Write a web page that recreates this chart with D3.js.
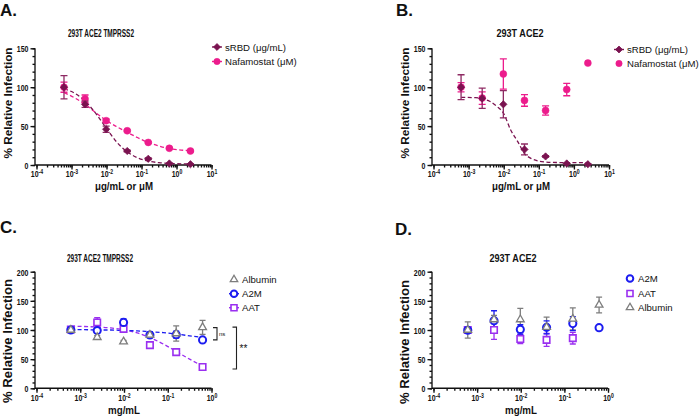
<!DOCTYPE html>
<html><head><meta charset="utf-8">
<script src="https://cdn.jsdelivr.net/npm/d3@7"></script>
<style>
body{margin:0;background:#fff}
svg{display:block}
text{font-family:"Liberation Sans",Arial,Helvetica,sans-serif;fill:#111}
</style>
</head><body>
<svg id="chart" width="700" height="417"></svg>
<script>
// ---------------- DATA ----------------
const concAB = [0.00061, 0.00244, 0.00977, 0.0391, 0.156, 0.625, 2.5];
const concCD = [0.00061, 0.00244, 0.00977, 0.0391, 0.156, 0.625];

const sRBD_A     = [100, 78, 46, 18, 8, 2, 1];
const sRBD_A_err = [15, 4, 4, 1, 1, 0.5, 0.5];
const naf_A      = [100, 85, 57, 44, 29, 21.5, 18];
const naf_A_err  = [6.5, 5, 2, 1, 1, 1, 1];

const sRBD_B     = [100, 85.7, 78, 20, 11, 2, 1];
const sRBD_B_err = [16, 13, 17.5, 7, 1, 0.5, 0.5];
const naf_B      = [100, 86, 117, 83, 70, 97, 131];
const naf_B_err  = [6, 8, 19.5, 7.5, 6, 8, 0];

// fitted curves
const fitConcA   = [0.000617, 0.00126, 0.00245, 0.005, 0.01, 0.02, 0.039, 0.079, 0.155, 0.316, 0.63, 2.5];
const fitSRBD_A  = [98, 92, 82, 66, 47, 29, 17, 9, 5, 3, 2, 1.3];
const fitNaf_A   = [93, 86, 78, 67, 57, 49, 42, 35, 29, 24.5, 21, 18.5];
const fitConcB   = [0.000617, 0.00158, 0.00251, 0.00398, 0.00631, 0.01, 0.0158, 0.0251, 0.0389, 0.0631, 0.1, 0.158, 0.316, 1, 2.51];
const fitSRBD_B  = [87, 86.5, 85, 82, 75.5, 66, 45, 30, 15, 8, 5, 3.8, 3.2, 3, 3];

const A2M_C     = [100, 99, 113, 91.5, 92, 83];
const A2M_C_err = [2, 3, 6, 5, 6, 4];
const AAT_C     = [101, 113, 102, 74, 62, 36.5];
const AAT_C_err = [3, 8, 3, 5, 2, 2];
const Alb_C     = [100, 87.5, 80, 91.5, 94, 104.5];
const Alb_C_err = [2, 3, 2, 3, 13, 12];
const fitConcC  = [0.000617, 0.00126, 0.00245, 0.005, 0.01, 0.02, 0.039, 0.079, 0.158, 0.316, 0.63];
const fitA2M_C  = [100.5, 100.5, 100, 100, 99, 98.5, 97, 95.5, 93, 90, 87];
const fitAAT_C  = [106.5, 106, 105, 103.5, 100.5, 95, 87, 76, 63, 50, 38];

const A2M_D     = [99.5, 116, 101, 104.5, 111, 104];
const A2M_D_err = [3, 17, 8, 11, 12, 3];
const AAT_D     = [100, 100, 84.5, 83, 86, null];
const AAT_D_err = [3, 16, 8, 11, 10, null];
const Alb_D     = [100, 118, 118, 105, 119, 143];
const Alb_D_err = [14, 7, 19, 17, 19, 13.5];

const xTicksAB = [1e-4, 1e-3, 1e-2, 1e-1, 1, 10];
const xTicksCD = [1e-4, 1e-3, 1e-2, 1e-1, 1];
const yTicksAB = [0, 50, 100, 150];
const yTicksCD = [0, 50, 100, 150, 200];

const COL = {srbd:"#7a1350", srbdErr:"#8e2a63", naf:"#ec1c8c", a2m:"#1c1cf0", aat:"#9a2ff0", alb:"#7d7d7d"};

// ---------------- HELPERS ----------------
const svg = d3.select("#chart");
const SQ = 0.76; // horizontal squeeze of tick labels
const rotSquare = {draw(ctx, size){ const r=Math.sqrt(size/2); ctx.moveTo(0,-r); ctx.lineTo(r,0); ctx.lineTo(0,r); ctx.lineTo(-r,0); ctx.closePath(); }};

function panel(cfg){
  const g = svg.append("g");
  const x = d3.scaleLog().domain(cfg.xDomain).range(cfg.xRange);
  const y = d3.scaleLinear().domain(cfg.yDomain).range(cfg.yRange);
  const x0 = cfg.xRange[0]-1.5;
  // minor ticks
  g.append("g").attr("transform",`translate(0,${cfg.yRange[0]})`)
    .call(d3.axisBottom(x).tickValues(x.ticks()).tickSize(2.5).tickFormat(""))
    .call(a=>a.select(".domain").remove());
  g.append("g").attr("transform",`translate(${x0},0)`)
    .call(d3.axisLeft(y).tickValues(y.ticks(cfg.yDomain[1]/10)).tickSize(2.5).tickFormat(""))
    .call(a=>a.select(".domain").remove());
  // major x
  const ax = g.append("g").attr("transform",`translate(0,${cfg.yRange[0]})`)
    .call(d3.axisBottom(x).tickValues(cfg.xTicks).tickSize(4.5).tickSizeOuter(0));
  ax.select(".domain").attr("d",`M${x0},0H${cfg.xRange[1]}`);
  ax.selectAll(".tick text").each(function(d){
    const t = d3.select(this);
    t.text("").attr("font-size",9.2).attr("font-weight","bold")
      .attr("y",cfg.xTickY).attr("dy",0).attr("transform",`scale(${SQ},1)`);
    t.append("tspan").text("10");
    t.append("tspan").attr("dy","-0.45em").attr("font-size","6.8px").text(Math.round(Math.log10(d)));
  });
  // major y
  const ay = g.append("g").attr("transform",`translate(${x0},0)`)
    .call(d3.axisLeft(y).tickValues(cfg.yTicks).tickSize(4.5).tickSizeOuter(0));
  ay.select(".domain").attr("d",`M0,${cfg.yRange[0]}V${cfg.yRange[1]}`);
  ay.selectAll(".tick text").attr("font-size",9.2).attr("font-weight","bold")
    .attr("x",-6.5/SQ).attr("dy","0.36em").attr("transform",`scale(${SQ},1)`);
  g.selectAll(".domain, .tick line").attr("stroke","#111").attr("stroke-width",1.35);

  // labels
  g.append("text").attr("x",cfg.title[1]).attr("y",cfg.title[2]).attr("text-anchor","middle")
    .attr("font-size",11.5).attr("font-weight","bold")
    .attr("textLength",cfg.title[3]).attr("lengthAdjust","spacingAndGlyphs").text(cfg.title[0]);
  g.append("text").attr("x",cfg.xlab[1]).attr("y",cfg.xlab[2]).attr("text-anchor","middle")
    .attr("font-size",11).attr("font-weight","bold")
    .attr("textLength",cfg.xlab[3]).attr("lengthAdjust","spacingAndGlyphs").text(cfg.xlab[0]);
  g.append("text").attr("transform",`translate(${cfg.ylab[0]},${cfg.ylab[1]}) rotate(-90)`)
    .attr("text-anchor","middle").attr("font-size",cfg.ylab[2]).attr("font-weight","bold")
    .attr("textLength",cfg.ylab[3]).attr("lengthAdjust","spacingAndGlyphs").text("% Relative Infection");
  g.append("text").attr("x",cfg.letter[1]).attr("y",cfg.letter[2])
    .attr("font-size",17).attr("font-weight","bold").text(cfg.letter[0]);
  return {g,x,y};
}

function fitLine(p, xs, ys, color){
  p.g.append("path").datum(xs.map((c,i)=>[c,ys[i]]))
    .attr("fill","none").attr("stroke",color).attr("stroke-width",1.3).attr("stroke-dasharray","4,2.5")
    .attr("d", d3.line().x(d=>p.x(d[0])).y(d=>p.y(d[1])).curve(d3.curveMonotoneX));
}
function errBars(p, xs, ys, es, color, cap){
  const pts = xs.map((c,i)=>({c, v:ys[i], e:es[i]})).filter(d=>d.v!=null && d.e>0);
  const gg = p.g.append("g").attr("stroke",color).attr("stroke-width",1.3).attr("fill","none");
  gg.selectAll("path").data(pts).join("path").attr("d",d=>{
    const X=p.x(d.c), t=p.y(d.v+d.e), b=p.y(d.v-d.e);
    return `M${X},${t}V${b}M${X-cap},${t}H${X+cap}M${X-cap},${b}H${X+cap}`;
  });
}
function markers(p, xs, ys, sym, size, color, filled, sw){
  const pts = xs.map((c,i)=>({c, v:ys[i]})).filter(d=>d.v!=null);
  p.g.append("g").selectAll("path").data(pts).join("path")
    .attr("transform",d=>`translate(${p.x(d.c)},${p.y(d.v)})`)
    .attr("d", d3.symbol().type(sym).size(size))
    .attr("fill", filled?color:"#fff").attr("stroke",color).attr("stroke-width",sw);
}
function legendRow(g, x, y, label, sym, size, color, filled, sw, line){
  if(line) g.append("line").attr("x1",x-5).attr("x2",x+5).attr("y1",y).attr("y2",y)
    .attr("stroke",color).attr("stroke-width",1.4);
  g.append("path").attr("transform",`translate(${x},${y})`).attr("d",d3.symbol().type(sym).size(size))
    .attr("fill",filled?color:"#fff").attr("stroke",color).attr("stroke-width",sw);
  g.append("text").attr("x",x+8).attr("y",y+3.5).attr("font-size",9.6).text(label);
}

// ---------------- PANEL A ----------------
const pA = panel({xDomain:[1e-4,10], xRange:[36.5,211.5], yDomain:[0,150], yRange:[165,48.3], xTickY:12,
  xTicks:xTicksAB, yTicks:yTicksAB, title:["293T ACE2 TMPRSS2",101,37,66], xlab:["μg/mL or μM",124,189.5,58],
  ylab:[11.5,103,11.5,111], letter:["A.",0,16]});
fitLine(pA, fitConcA, fitNaf_A, COL.naf);
fitLine(pA, fitConcA, fitSRBD_A, COL.srbd);
errBars(pA, concAB, naf_A, naf_A_err, COL.naf, 3.5);
markers(pA, concAB, naf_A, d3.symbolCircle, 38, COL.naf, true, 0.5);
errBars(pA, concAB, sRBD_A, sRBD_A_err, COL.srbdErr, 3.5);
markers(pA, concAB, sRBD_A, rotSquare, 26, COL.srbd, true, 0.8);
legendRow(pA.g, 217, 47, "sRBD (μg/mL)", rotSquare, 24, COL.srbd, true, 0.8, true);
legendRow(pA.g, 217, 61.5, "Nafamostat (μM)", d3.symbolCircle, 32, COL.naf, true, 0.5, true);

// ---------------- PANEL B ----------------
const pB = panel({xDomain:[1e-4,10], xRange:[433.5,609], yDomain:[0,150], yRange:[165,48.3], xTickY:12,
  xTicks:xTicksAB, yTicks:yTicksAB, title:["293T ACE2",520,37,47], xlab:["μg/mL or μM",521,189.5,58],
  ylab:[408.5,103,11.5,111], letter:["B.",396,16]});
errBars(pB, concAB, naf_B, naf_B_err, COL.naf, 3.5);
markers(pB, concAB, naf_B, d3.symbolCircle, 38, COL.naf, true, 0.5);
fitLine(pB, fitConcB, fitSRBD_B, COL.srbd);
errBars(pB, concAB, sRBD_B, sRBD_B_err, COL.srbdErr, 3.5);
markers(pB, concAB, sRBD_B, rotSquare, 26, COL.srbd, true, 0.8);
legendRow(pB.g, 619, 49.5, "sRBD (μg/mL)", rotSquare, 24, COL.srbd, true, 0.8, true);
legendRow(pB.g, 619, 63.5, "Nafamostat (μM)", d3.symbolCircle, 32, COL.naf, true, 0.5, false);

// ---------------- PANEL C ----------------
const pC = panel({xDomain:[1e-4,1], xRange:[36.5,211.5], yDomain:[0,200], yRange:[388.3,271.7], xTickY:13,
  xTicks:xTicksCD, yTicks:yTicksCD, title:["293T ACE2 TMPRSS2",100,262,66], xlab:["mg/mL",124,413.5,32],
  ylab:[11.5,341,12.5,124], letter:["C.",0,232.5]});
fitLine(pC, fitConcC, fitAAT_C, COL.aat);
fitLine(pC, fitConcC, fitA2M_C, COL.a2m);
errBars(pC, concCD, Alb_C, Alb_C_err, COL.alb, 3);
errBars(pC, concCD, AAT_C, AAT_C_err, COL.aat, 3);
errBars(pC, concCD, A2M_C, A2M_C_err, COL.a2m, 3);
markers(pC, concCD, AAT_C, d3.symbolSquare, 42, COL.aat, false, 1.6);
markers(pC, concCD, A2M_C, d3.symbolCircle, 40, COL.a2m, false, 2);
markers(pC, concCD, Alb_C, d3.symbolTriangle, 26, COL.alb, false, 1.3);
legendRow(pC.g, 234, 279.5, "Albumin", d3.symbolTriangle, 24, COL.alb, false, 1.3, false);
legendRow(pC.g, 234, 293.7, "A2M", d3.symbolCircle, 34, COL.a2m, false, 2, true);
legendRow(pC.g, 234, 307.7, "AAT", d3.symbolSquare, 36, COL.aat, false, 1.6, true);
// significance brackets
function bracket(p, xp, v1, v2, label, fs, dx){
  const t=p.y(v1), b=p.y(v2);
  p.g.append("path").attr("d",`M${xp-4},${t}H${xp}V${b}H${xp-4}`).attr("fill","none")
    .attr("stroke","#222").attr("stroke-width",1.1);
  p.g.append("text").attr("x",xp+dx).attr("y",(t+b)/2+fs*0.35).attr("font-size",fs).text(label);
}
bracket(pC, 217, 104, 83, "ns", 6, 2);
bracket(pC, 236.5, 105, 33, "**", 10, 3);

// ---------------- PANEL D ----------------
const pD = panel({xDomain:[1e-4,1], xRange:[433.5,608], yDomain:[0,200], yRange:[388.3,271.7], xTickY:13,
  xTicks:xTicksCD, yTicks:yTicksCD, title:["293T ACE2",513,262,47], xlab:["mg/mL",521,413.5,32],
  ylab:[409,342,12.5,124], letter:["D.",395,235]});
errBars(pD, concCD, Alb_D, Alb_D_err, COL.alb, 3);
errBars(pD, concCD, AAT_D, AAT_D_err, COL.aat, 3);
errBars(pD, concCD, A2M_D, A2M_D_err, COL.a2m, 3);
markers(pD, concCD, AAT_D, d3.symbolSquare, 42, COL.aat, false, 1.6);
markers(pD, concCD, A2M_D, d3.symbolCircle, 40, COL.a2m, false, 2);
markers(pD, concCD, Alb_D, d3.symbolTriangle, 26, COL.alb, false, 1.3);
legendRow(pD.g, 630, 278.5, "A2M", d3.symbolCircle, 34, COL.a2m, false, 2, false);
legendRow(pD.g, 630, 293.5, "AAT", d3.symbolSquare, 36, COL.aat, false, 1.6, false);
legendRow(pD.g, 630, 307.5, "Albumin", d3.symbolTriangle, 24, COL.alb, false, 1.3, false);
</script>
</body></html>
